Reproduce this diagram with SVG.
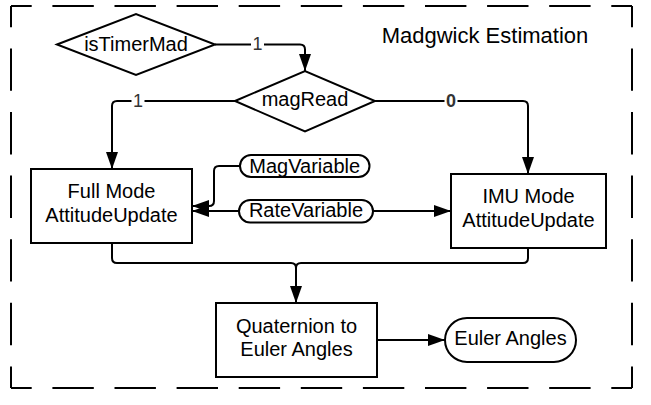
<svg xmlns="http://www.w3.org/2000/svg" width="651" height="405" viewBox="0 0 651 405">
<style>
text{font-family:"Liberation Sans",Arial,sans-serif;fill:#000;text-anchor:middle}
.n{font-size:20px}
.t{font-size:22px}
.lbl{font-size:18px;fill:#333}
.shape{fill:#fff;stroke:#000;stroke-width:2}
.c{fill:none;stroke:#000;stroke-width:2}
.bh{stroke:#000;stroke-width:2;fill:none}
</style>
<defs>
<marker id="ar" markerUnits="userSpaceOnUse" markerWidth="18" markerHeight="12" refX="17" refY="6" orient="auto">
<path d="M0,0 L17,6 L0,12 Z" fill="#000"/>
</marker>
</defs>
<rect width="651" height="405" fill="#fff"/>
<g id="border">
<line class="bh" x1="11" y1="6" x2="632" y2="6" stroke-dasharray="41.4 20.7" stroke-dashoffset="20.7"/>
<line class="bh" x1="11" y1="388" x2="632" y2="388" stroke-dasharray="41.4 20.7" stroke-dashoffset="20.7"/>
<line class="bh" x1="11" y1="6" x2="11" y2="388" stroke-dasharray="42.4 21.2" stroke-dashoffset="21.2"/>
<line class="bh" x1="632" y1="6" x2="632" y2="388" stroke-dasharray="42.4 21.2" stroke-dashoffset="21.2"/>
<text class="t" x="485" y="43">Madgwick Estimation</text>
</g>
<g id="connectors">
<path class="c" d="M215,44.5 H300 Q305,44.5 305,49.5 V71" marker-end="url(#ar)"/>
<path class="c" d="M235,101 H117 Q112,101 112,106 V169" marker-end="url(#ar)"/>
<path class="c" d="M375,101 H523 Q528,101 528,106 V174" marker-end="url(#ar)"/>
<path class="c" d="M240,166 H219 Q214,166 214,171 V201 Q214,206 209,206 H192" marker-end="url(#ar)"/>
<path class="c" d="M239,211 H192" marker-end="url(#ar)"/>
<path class="c" d="M373,211 H451" marker-end="url(#ar)"/>
<path class="c" d="M112,243 V258 Q112,263 117,263 H291 Q296,263 296,268 V303" marker-end="url(#ar)"/>
<path class="c" d="M528,248 V258 Q528,263 523,263 H301 Q296,263 296,268"/>
<path class="c" d="M377,340 H445" marker-end="url(#ar)"/>
<rect x="251" y="34" width="13" height="18" fill="#fff"/>
<text class="lbl" x="257.5" y="50">1</text>
<rect x="131.5" y="91" width="13" height="18" fill="#fff"/>
<text class="lbl" x="138" y="107">1</text>
<rect x="444.5" y="91" width="13" height="18" fill="#fff"/>
<text class="lbl" x="451" y="107" font-weight="bold">0</text>
</g>
<g id="isTimerMad">
<polygon class="shape" points="57,44.5 136,14 215,44.5 136,75"/>
<text class="n" x="136" y="51">isTimerMad</text>
</g>
<g id="magRead">
<polygon class="shape" points="235,101 305,71 375,101 305,131.5"/>
<text class="n" x="305" y="106">magRead</text>
</g>
<g id="fullMode">
<rect class="shape" x="31" y="169" width="161" height="74"/>
<text class="n" x="111.5" y="198">Full Mode</text>
<text class="n" x="111.5" y="222">AttitudeUpdate</text>
</g>
<g id="imuMode">
<rect class="shape" x="451" y="174" width="155" height="74"/>
<text class="n" x="528.5" y="203">IMU Mode</text>
<text class="n" x="528.5" y="227">AttitudeUpdate</text>
</g>
<g id="magVariable">
<rect class="shape" x="240" y="155" width="129.5" height="22" rx="11"/>
<text class="n" x="304.7" y="172.5">MagVariable</text>
</g>
<g id="rateVariable">
<rect class="shape" x="239" y="200" width="134" height="22.5" rx="11.2"/>
<text class="n" x="306" y="217">RateVariable</text>
</g>
<g id="quaternion">
<rect class="shape" x="216" y="303" width="161" height="74"/>
<text class="n" x="296.5" y="333">Quaternion to</text>
<text class="n" x="296.5" y="356">Euler Angles</text>
</g>
<g id="eulerAngles">
<rect class="shape" x="445" y="318" width="131" height="44" rx="22"/>
<text class="n" x="510.5" y="345">Euler Angles</text>
</g>
</svg>
